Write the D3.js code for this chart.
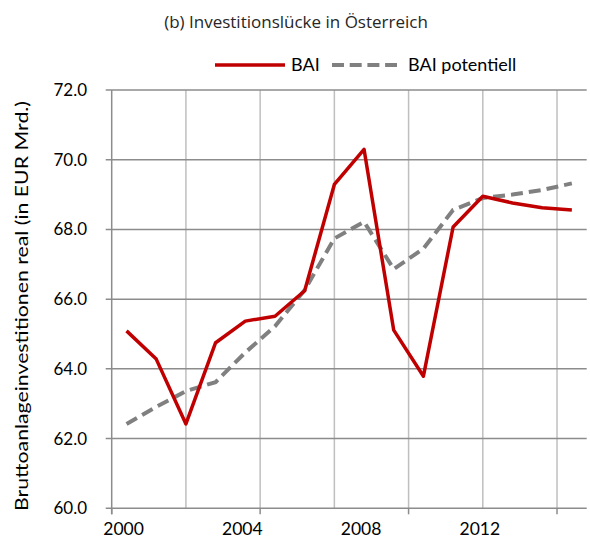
<!DOCTYPE html>
<html>
<head>
<meta charset="utf-8">
<script src="https://cdn.jsdelivr.net/npm/d3@7"></script>
<style>
    body { margin: 0; background: #ffffff; }
    svg text { font-family: "Lato", "Liberation Sans", sans-serif; fill: #000000; }
</style>
</head>
<body>
<div id="chart"></div>
<script>
// data
var years = [2000, 2001, 2002, 2003, 2004, 2005, 2006, 2007, 2008, 2009, 2010, 2011, 2012, 2013, 2014, 2015];
var bai = [65.09, 64.28, 62.42, 64.75, 65.37, 65.51, 66.24, 69.29, 70.30, 65.11, 63.79, 68.07, 68.95, 68.76, 68.62, 68.56];
var baiPotentiell = [62.42, 62.91, 63.36, 63.62, 64.47, 65.22, 66.26, 67.74, 68.22, 66.86, 67.45, 68.56, 68.90, 69.00, 69.13, 69.32];
var yTicks = [60, 62, 64, 66, 68, 70, 72];
var xLabels = [2000, 2004, 2008, 2012];
var gridYears = [2002, 2004.5, 2007, 2009.5, 2012, 2014.5];
var tickYears = [1999.5, 2004.5, 2009.5, 2014.5];

var width = 590, height = 545;
var plotLeft = 111.7, plotRight = 586.7, plotTop = 90, plotBottom = 508.3;

var svg = d3.select("#chart")
    .append("svg")
    .attr("width", width)
    .attr("height", height);

var x = d3.scaleLinear()
    .domain([1999.5, 2015.5])
    .range([plotLeft, plotRight]);

var y = d3.scaleLinear()
    .domain([60, 72])
    .range([plotBottom, plotTop]);

// vertical grid (lighter)
svg.selectAll("line.vgrid")
    .data(gridYears)
    .enter()
    .append("line")
    .attr("class", "vgrid")
    .attr("x1", function(d) { return x(d); })
    .attr("x2", function(d) { return x(d); })
    .attr("y1", plotTop)
    .attr("y2", plotBottom)
    .style("stroke", "#bfbfbf")
    .style("stroke-width", 1.5);

// horizontal grid (darker), the 60 line is the x axis
svg.selectAll("line.hgrid")
    .data(yTicks)
    .enter()
    .append("line")
    .attr("class", "hgrid")
    .attr("x1", plotLeft - 6)
    .attr("x2", plotRight)
    .attr("y1", function(d) { return y(d); })
    .attr("y2", function(d) { return y(d); })
    .style("stroke", "#8c8c8c")
    .style("stroke-width", 1.5);

// y axis line
svg.append("line")
    .attr("x1", plotLeft)
    .attr("x2", plotLeft)
    .attr("y1", y(72))
    .attr("y2", plotBottom + 6)
    .style("stroke", "#8c8c8c")
    .style("stroke-width", 1.5);

// x tick marks
svg.selectAll("line.xtick")
    .data(tickYears)
    .enter()
    .append("line")
    .attr("class", "xtick")
    .attr("x1", function(d) { return x(d); })
    .attr("x2", function(d) { return x(d); })
    .attr("y1", plotBottom)
    .attr("y2", plotBottom + 6)
    .style("stroke", "#8c8c8c")
    .style("stroke-width", 1.5);

// y labels
svg.selectAll("text.ylab")
    .data(yTicks)
    .enter()
    .append("text")
    .attr("class", "ylab")
    .attr("x", 87)
    .attr("y", function(d) { return y(d); })
    .attr("dy", "0.35em")
    .attr("text-anchor", "end")
    .style("font-size", "17px")
    .text(function(d) { return d3.format(".1f")(d); });

// x labels
svg.selectAll("text.xlab")
    .data(xLabels)
    .enter()
    .append("text")
    .attr("class", "xlab")
    .attr("x", function(d) { return x(d) - 3; })
    .attr("y", 535)
    .attr("text-anchor", "middle")
    .style("font-size", "17.5px")
    .text(function(d) { return d; });

// y axis title - stretched to the span it has in the original
svg.append("text")
    .attr("transform", "translate(28,306) rotate(-90)")
    .attr("text-anchor", "middle")
    .attr("textLength", 410)
    .attr("lengthAdjust", "spacingAndGlyphs")
    .style("font-size", "18px")
    .text("Bruttoanlageinvestitionen real (in EUR Mrd.)");

// chart title
svg.append("text")
    .attr("x", 296)
    .attr("y", 28)
    .attr("text-anchor", "middle")
    .style("font-family", "'Open Sans', sans-serif")
    .style("font-size", "17px")
    .style("fill", "#262626")
    .text("(b) Investitionslücke in Österreich");

var line = d3.line()
    .x(function(d) { return x(d[0]); })
    .y(function(d) { return y(d[1]); });

svg.append("path")
    .datum(d3.zip(years, baiPotentiell))
    .attr("d", line)
    .style("fill", "none")
    .style("stroke", "#808080")
    .style("stroke-width", 4)
    .style("stroke-dasharray", "12,6");

svg.append("path")
    .datum(d3.zip(years, bai))
    .attr("d", line)
    .style("fill", "none")
    .style("stroke", "#c00000")
    .style("stroke-width", 3.5)
    .style("stroke-linejoin", "round");

// legend
var legend = svg.append("g").attr("transform", "translate(0,65)");
legend.append("line")
    .attr("x1", 215).attr("x2", 285)
    .style("stroke", "#c00000")
    .style("stroke-width", 3.5);
legend.append("text")
    .attr("x", 291)
    .attr("dy", "0.35em")
    .style("font-size", "18px")
    .text("BAI");
legend.append("line")
    .attr("x1", 332).attr("x2", 397)
    .style("stroke", "#808080")
    .style("stroke-width", 4)
    .style("stroke-dasharray", "12,5.7");
legend.append("text")
    .attr("x", 408)
    .attr("dy", "0.35em")
    .style("font-size", "18px")
    .text("BAI potentiell");
</script>
</body>
</html>
